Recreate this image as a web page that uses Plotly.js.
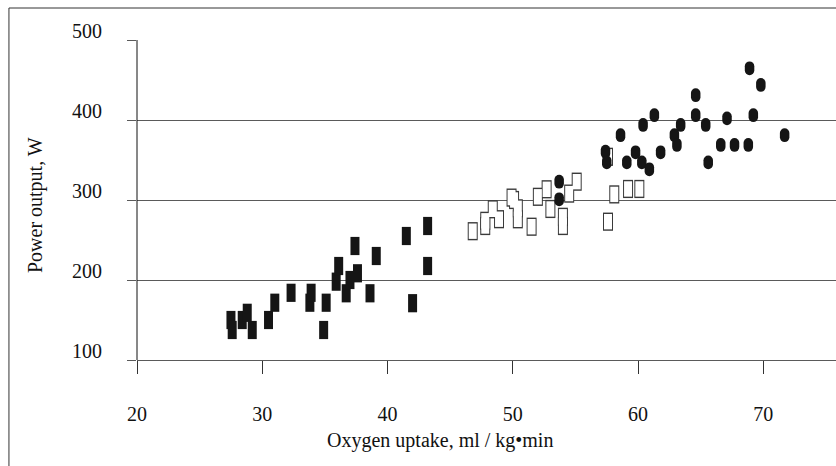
<!DOCTYPE html>
<html>
<head>
<meta charset="utf-8">
<script src="https://cdn.plot.ly/plotly-3.0.1.min.js"></script>
<style>
  html, body { margin: 0; padding: 0; background: #fff; overflow: hidden; }
  #chart { width: 836px; height: 466px; }
  .scatterlayer .trace:nth-child(4) path.point { stroke-linecap: round; }
</style>
</head>
<body>
<div id="chart"></div>
<script>
// Filled squares (low range)
const sqFilledX = [27.5, 27.6, 28.4, 28.8, 29.2, 30.5, 31.0, 32.3, 33.8, 33.9, 34.9, 35.1, 35.9, 36.1, 36.7, 37.0, 37.4, 37.6, 38.6, 39.1, 41.5, 42.0, 43.2, 43.2];
const sqFilledY = [150, 137.5, 150, 159, 137.5, 150, 171.6, 184, 171.6, 184, 137.5, 171.6, 197.9, 217.5, 183.4, 200, 242.5, 208.4, 183.4, 230, 255, 171, 267.5, 217.5];

// Open squares (middle range)
const sqOpenX = [46.8, 47.8, 47.8, 48.4, 48.9, 49.9, 50.1, 50.4, 50.4, 51.5, 52.0, 52.7, 53.0, 54.0, 54.0, 54.5, 55.1, 57.6, 57.6, 58.1, 59.2, 60.1];
const sqOpenY = [261, 274, 267.5, 288.4, 276, 303, 300, 289.6, 275.9, 266.6, 304, 313.4, 288.8, 279, 267.5, 308, 322.9, 272.9, 354, 307, 313.8, 313.8];

// Filled circles (high range)
const circX = [53.7, 53.7, 57.4, 57.5, 58.6, 59.1, 59.8, 60.3, 60.9, 60.4, 61.3, 61.8, 62.9, 63.1, 63.4, 64.6, 64.6, 65.4, 65.6, 66.6, 67.1, 67.7, 68.8, 68.9, 69.2, 69.8, 71.7];
const circY = [322.9, 300.9, 360.4, 347, 381, 347, 359.6, 347, 338.4, 393.8, 406, 359.6, 381, 368.8, 393.8, 431, 406, 393.8, 347, 368.8, 402, 368.8, 368.8, 464.6, 406, 443.8, 381];

const xTicks = [20, 30, 40, 50, 60, 70];
const yTicks = [100, 200, 300, 400, 500];
const xTitle = 'Oxygen uptake, ml / kg\u2022min';
const yTitle = 'Power output, W';

const FONT = 'Liberation Serif, Times New Roman, serif';
const INK = '#151515';
const GRID = '#5a5a5a';

const data = [
  { x: sqFilledX, y: sqFilledY, type: 'scatter', mode: 'markers', hoverinfo: 'skip',
    marker: { symbol: 'line-ns', size: 13, color: INK, line: { color: INK, width: 9 } } },
  { x: sqOpenX, y: sqOpenY, type: 'scatter', mode: 'markers', hoverinfo: 'skip',
    marker: { symbol: 'line-ns', size: 13, color: '#3a3a3a', line: { color: '#3a3a3a', width: 10 } } },
  { x: sqOpenX, y: sqOpenY, type: 'scatter', mode: 'markers', hoverinfo: 'skip',
    marker: { symbol: 'line-ns', size: 11, color: '#ffffff', line: { color: '#ffffff', width: 8 } } },
  { x: circX, y: circY, type: 'scatter', mode: 'markers', hoverinfo: 'skip',
    marker: { symbol: 'line-ns', size: 3, color: INK, line: { color: INK, width: 9.5 } } }
];

const layout = {
  width: 836, height: 466,
  margin: { l: 137, r: 0, t: 40, b: 106, pad: 0 },
  paper_bgcolor: '#ffffff', plot_bgcolor: '#ffffff',
  showlegend: false,
  font: { family: FONT, size: 20, color: '#111' },
  xaxis: {
    range: [20, 75.8], tickvals: xTicks, ticktext: xTicks.map(String),
    showgrid: false, zeroline: false,
    showline: true, linecolor: GRID, linewidth: 1,
    ticks: 'outside', ticklen: 13, tickcolor: '#333', tickwidth: 1,
    ticklabelstandoff: 23,
    tickfont: { family: FONT, size: 20, color: '#111' }
  },
  yaxis: {
    range: [100, 500], tickvals: yTicks, ticktext: yTicks.map(String),
    showgrid: true, gridcolor: GRID, gridwidth: 1,
    zeroline: false, showline: false,
    ticks: 'outside', ticklen: 9, tickcolor: GRID, tickwidth: 1,
    ticklabelstandoff: 21, ticklabelshift: -9,
    tickfont: { family: FONT, size: 20, color: '#111' }
  },
  shapes: [
    // y axis line
    { type: 'line', xref: 'paper', yref: 'paper', x0: 0, x1: 0, y0: 0, y1: 1, line: { color: '#111', width: 1 } },
    // outer frame (left and top)
    { type: 'line', xref: 'paper', yref: 'paper', x0: -0.1832, x1: -0.1832, y0: -0.35, y1: 1.1, line: { color: '#333', width: 1 } },
    { type: 'line', xref: 'paper', yref: 'paper', x0: -0.1832, x1: 1.01, y0: 1.1, y1: 1.1, line: { color: '#333', width: 1 } }
  ],
  annotations: [
    { text: xTitle, xref: 'paper', yref: 'paper', x: 0.4335, y: -0.25, xanchor: 'center', yanchor: 'middle',
      showarrow: false, font: { family: FONT, size: 20, color: '#111' } },
    { text: yTitle, xref: 'paper', yref: 'paper', x: -0.146, y: 0.484, xanchor: 'center', yanchor: 'middle',
      textangle: -90, showarrow: false, font: { family: FONT, size: 20, color: '#111' } }
  ]
};

Plotly.newPlot('chart', data, layout, { displayModeBar: false, staticPlot: true });
</script>
</body>
</html>
